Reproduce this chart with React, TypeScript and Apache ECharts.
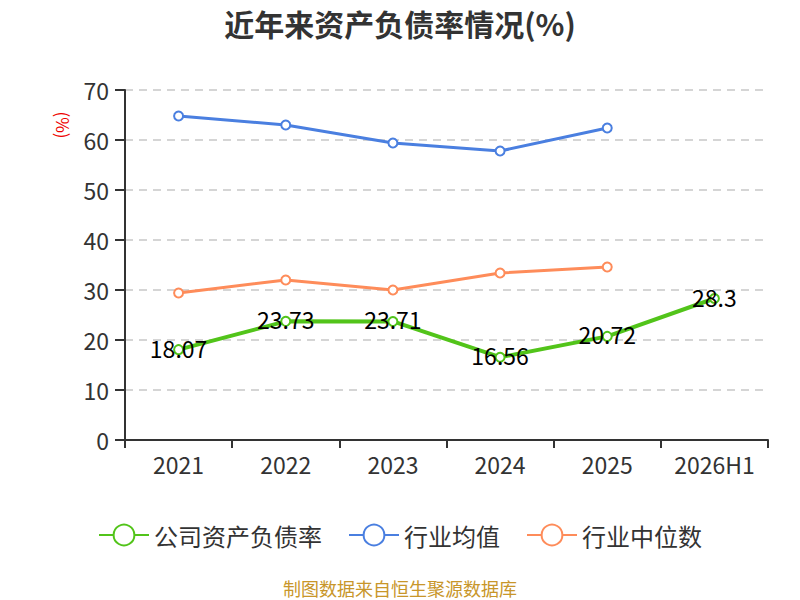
import React, { useEffect, useRef } from "react";
import * as echarts from "echarts";

const categories = ["2021", "2022", "2023", "2024", "2025", "2026H1"];
const companyRatio = [18.07, 23.73, 23.71, 16.56, 20.72, 28.3];
const industryAvg = [64.8, 63.0, 59.4, 57.8, 62.4, null];
const industryMedian = [29.4, 32.0, 30.0, 33.4, 34.6, null];

export default function App() {
  const ref = useRef<HTMLDivElement>(null);
  useEffect(() => {
    if (!ref.current) return;
    const chart = echarts.init(ref.current, undefined, { renderer: "svg" });
    const font = "'Noto Sans CJK SC', 'Noto Sans', sans-serif";
    chart.setOption({
      animation: false,
      textStyle: { fontFamily: font },
      title: {
        text: "近年来资产负债率情况(%)",
        left: "center",
        top: 3,
        textStyle: { fontSize: 30, fontWeight: "bold", color: "#333", fontFamily: font },
      },
      grid: { left: 125, right: 32, top: 90, bottom: 160 },
      legend: {
        top: 518,
        left: "center",
        itemWidth: 50,
        itemHeight: 26,
        itemGap: 26,
        textStyle: { fontSize: 24, color: "#333", fontFamily: font },
        data: ["公司资产负债率", "行业均值", "行业中位数"],
      },
      graphic: [
        {
          type: "text",
          left: "center",
          top: 579,
          style: { text: "制图数据来自恒生聚源数据库", fill: "#c8962a", fontSize: 18, fontFamily: font },
        },
        {
          type: "text",
          x: 63,
          y: 125,
          rotation: -Math.PI / 2,
          style: {
            text: "(%)",
            fill: "#e00",
            fontSize: 17,
            fontFamily: font,
            align: "center",
            verticalAlign: "middle",
          },
        },
      ],
      xAxis: {
        type: "category",
        data: categories,
        boundaryGap: true,
        axisLine: { lineStyle: { color: "#333", width: 2 } },
        axisTick: { show: true, length: 8, lineStyle: { color: "#333", width: 2 } },
        axisLabel: { fontSize: 23, color: "#333", margin: 12 },
      },
      yAxis: {
        type: "value",
        min: 0,
        max: 70,
        interval: 10,
        axisLine: { show: true, lineStyle: { color: "#333", width: 2 } },
        axisTick: { show: true, length: 10, lineStyle: { color: "#333", width: 2 } },
        axisLabel: { fontSize: 23, color: "#333", margin: 16 },
        splitLine: { lineStyle: { color: "#c8c8c8", type: [8, 6], width: 1.5 } },
      },
      series: [
        {
          name: "公司资产负债率",
          type: "line",
          data: companyRatio,
          symbol: "emptyCircle",
          symbolSize: 9,
          lineStyle: { color: "#52c41a", width: 4 },
          itemStyle: { color: "#52c41a" },
          label: { show: true, position: "inside", offset: [0, -2], fontSize: 23, color: "#000" },
          z: 5,
        },
        {
          name: "行业均值",
          type: "line",
          data: industryAvg,
          symbol: "emptyCircle",
          symbolSize: 9,
          lineStyle: { color: "#4a7fe0", width: 3 },
          itemStyle: { color: "#4a7fe0" },
        },
        {
          name: "行业中位数",
          type: "line",
          data: industryMedian,
          symbol: "emptyCircle",
          symbolSize: 9,
          lineStyle: { color: "#fe8c5a", width: 3 },
          itemStyle: { color: "#fe8c5a" },
        },
      ],
    });
    return () => chart.dispose();
  }, []);
  return (
    <div
      ref={ref}
      style={{ position: "absolute", left: 0, top: 0, width: 800, height: 600 }}
    />
  );
}
